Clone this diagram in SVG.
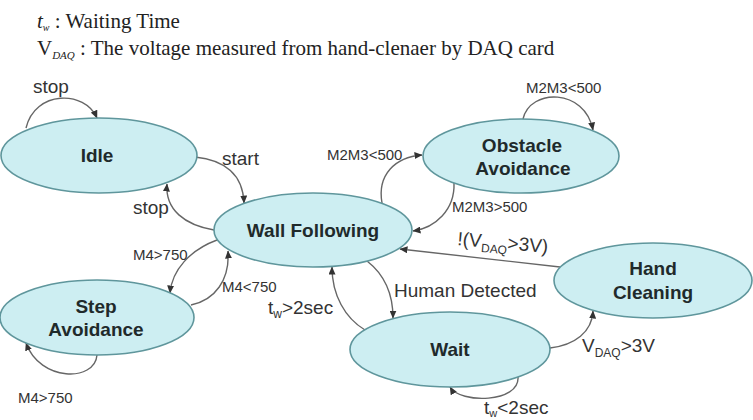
<svg xmlns="http://www.w3.org/2000/svg" width="753" height="420" viewBox="0 0 753 420">
<defs>
<style>
.node ellipse{fill:#cdeef2;stroke:#5f969c;stroke-width:1.6}
.nt{font-family:"Liberation Sans",Arial,sans-serif;font-weight:bold;font-size:19px;fill:#1f2a2b;text-anchor:middle}
.edges path{fill:none;stroke:#666;stroke-width:1.4;marker-end:url(#ah)}
.lb{font-family:"Liberation Sans",Arial,sans-serif;font-size:19px;fill:#333}
.sm{font-family:"Liberation Sans",Arial,sans-serif;font-size:15px;fill:#333}
.hd{font-family:"Liberation Serif","Times New Roman",serif;font-size:21px;fill:#222}
</style>
<marker id="ah" markerUnits="userSpaceOnUse" markerWidth="8" markerHeight="7" refX="7.5" refY="3.5" orient="auto">
<path d="M0,0 L8,3.5 L0,7 z" fill="#333"/>
</marker>
</defs>
<rect width="753" height="420" fill="#fff"/>
<g id="legend">
<text class="hd" x="37" y="28"><tspan font-style="italic">t</tspan><tspan font-style="italic" font-size="10" dy="3">w</tspan><tspan dy="-3"> : Waiting Time</tspan></text>
<text class="hd" x="37" y="55">V<tspan font-style="italic" font-size="11" dy="4">DAQ</tspan><tspan dy="-4"> : The voltage measured from hand-clenaer by DAQ card</tspan></text>
</g>
<g class="edges" id="connectors">
<path d="M26,128 C35,90 85,90 97,118"/>
<path d="M195,157 C225,160 243,175 244,203"/>
<path d="M214,230 C185,225 165,210 167,184"/>
<path d="M382,203 C377,175 395,157 422,155"/>
<path d="M454,183 C455,210 435,228 413,231"/>
<path d="M523,119 C530,88 585,88 593,130"/>
<path d="M217,240 C190,250 172,270 170,293"/>
<path d="M191,305 C215,300 230,280 228,251"/>
<path d="M97,355 C95,382 40,382 26,343"/>
<path d="M367,261 C385,275 393,295 393,318"/>
<path d="M365,330 C345,318 332,295 332,267"/>
<path d="M560,267 L400,249"/>
<path d="M550,348 C575,345 592,332 593,311"/>
<path d="M518,377 C520,403 460,404 450,387"/>
</g>
<g id="idle" class="node"><ellipse cx="99" cy="155.5" rx="98" ry="37.5"/><text class="nt" x="97" y="162">Idle</text></g>
<g id="wall-following" class="node"><ellipse cx="313" cy="230" rx="99" ry="37"/><text class="nt" x="313" y="237">Wall Following</text></g>
<g id="obstacle-avoidance" class="node"><ellipse cx="521" cy="156" rx="98" ry="37"/><text class="nt" x="522" y="152">Obstacle</text><text class="nt" x="523" y="175">Avoidance</text></g>
<g id="step-avoidance" class="node"><ellipse cx="97" cy="317.5" rx="97" ry="37.5"/><text class="nt" x="96" y="313">Step</text><text class="nt" x="96" y="336">Avoidance</text></g>
<g id="hand-cleaning" class="node"><ellipse cx="653" cy="280.5" rx="99" ry="37.5"/><text class="nt" x="653" y="275">Hand</text><text class="nt" x="653" y="299">Cleaning</text></g>
<g id="wait" class="node"><ellipse cx="450" cy="349.5" rx="100" ry="37.5"/><text class="nt" x="450" y="356">Wait</text></g>
<g id="labels">
<text class="lb" x="33" y="93">stop</text>
<text class="lb" x="222" y="165">start</text>
<text class="lb" x="133" y="214">stop</text>
<text class="sm" x="327" y="160">M2M3&lt;500</text>
<text class="sm" x="526" y="93">M2M3&lt;500</text>
<text class="sm" x="452" y="212">M2M3&gt;500</text>
<text class="sm" x="133" y="260">M4&gt;750</text>
<text class="sm" x="222" y="292">M4&lt;750</text>
<text class="sm" x="18" y="403">M4&gt;750</text>
<text class="lb" x="394" y="297">Human Detected</text>
<text class="lb" x="268" y="314">t<tspan font-size="12" dy="4">w</tspan><tspan dy="-4">&gt;2sec</tspan></text>
<text class="lb" x="582" y="352">V<tspan font-size="12" dy="5">DAQ</tspan><tspan dy="-5">&gt;3V</tspan></text>
<text class="lb" x="457" y="245" transform="rotate(5 457 245)">!(V<tspan font-size="12" dy="5">DAQ</tspan><tspan dy="-5">&gt;3V)</tspan></text>
<text class="lb" x="484" y="414">t<tspan font-size="11" dy="3">w</tspan><tspan dy="-3">&lt;2sec</tspan></text>
</g>
</svg>
